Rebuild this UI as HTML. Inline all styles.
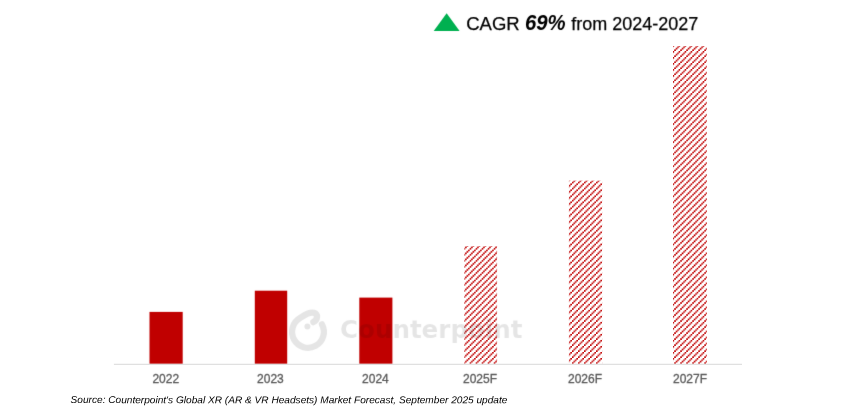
<!DOCTYPE html>
<html><head><meta charset="utf-8">
<style>
html,body{margin:0;padding:0;background:#fff;}
body{width:859px;height:409px;overflow:hidden;position:relative;font-family:"Liberation Sans",sans-serif;}
svg{position:absolute;left:0;top:0;}
</style></head><body>
<svg width="859" height="409" viewBox="0 0 859 409">
<defs>
<pattern id="h" width="6.018" height="6.018" patternUnits="userSpaceOnUse" patternTransform="translate(0.228 2.878)"><g fill="#c00000"><rect x="-1.5772" y="5.9452" width="1.6500" height="1.6500"/><rect x="-0.0727" y="4.4407" width="1.6500" height="1.6500"/><rect x="1.4318" y="2.9362" width="1.6500" height="1.6500"/><rect x="2.9362" y="1.4318" width="1.6500" height="1.6500"/><rect x="4.4407" y="-0.0727" width="1.6500" height="1.6500"/><rect x="5.9452" y="-1.5772" width="1.6500" height="1.6500"/></g></pattern>
<filter id="b" x="0" y="0" width="859" height="409" filterUnits="userSpaceOnUse" color-interpolation-filters="sRGB"><feConvolveMatrix order="3" kernelMatrix="0.01 0.07 0.01 0.07 0.68 0.07 0.01 0.07 0.01" divisor="1" edgeMode="none" preserveAlpha="false"/></filter>
</defs>
<rect width="859" height="409" fill="#fff"/>
<!-- solid bars -->
<g filter="url(#b)">
<rect x="149.5" y="311.9" width="33.2" height="51.9" fill="#c00000"/>
<rect x="254.8" y="290.7" width="32.4" height="73.1" fill="#c00000"/>
<rect x="359.3" y="297.6" width="33.1" height="66.2" fill="#c00000"/>
</g>
<!-- forecast (hatched) bars -->
<rect x="464.4" y="246.2" width="32.7" height="117.5" fill="url(#h)"/>
<rect x="568.9" y="180.6" width="33.2" height="183.1" fill="url(#h)"/>
<rect x="673" y="46" width="33.8" height="317.7" fill="url(#h)"/>
<line x1="113.9" y1="364.3" x2="742" y2="364.3" stroke="#d4d4d4" stroke-width="0.9"/>
<g filter="url(#b)">
<!-- watermark -->
<g fill="none" stroke="#000" stroke-opacity="0.1" stroke-linecap="round" stroke-linejoin="round">
<path d="M322.0 324.4 A15.9 15.9 0 1 1 300.05 318.1 C304.5 315.2 309.5 311.6 314.0 312.9 C318.2 314.2 318 319.5 313.4 322.1" stroke-width="6.3"/>
</g>
<circle cx="307.4" cy="326.4" r="3" fill="#000" fill-opacity="0.1"/>
<text x="340" y="337.6" font-family="DejaVu Sans, sans-serif" font-weight="bold" font-size="24.5" fill="#000" fill-opacity="0.1" textLength="182.5" lengthAdjust="spacingAndGlyphs">Counterpoint</text>
<!-- axis labels -->
<g font-family="Liberation Sans, sans-serif" font-size="12" fill="#595959" stroke="#595959" stroke-width="0.3" text-anchor="middle">
<text x="165.8" y="383">2022</text>
<text x="270.4" y="383">2023</text>
<text x="375.4" y="383">2024</text>
<text x="480" y="383">2025F</text>
<text x="585" y="383">2026F</text>
<text x="690" y="383">2027F</text>
</g>
<!-- title -->
<polygon points="433.7,31 459.6,31 446.65,13.3" fill="#00b050"/>
<g font-family="Liberation Sans, sans-serif" font-size="18" fill="#000">
<text x="466.2" y="30.4" font-size="18.5" stroke="#000" stroke-width="0.25">CAGR</text>
<text x="525.0" y="30.4" font-weight="bold" font-style="italic" font-size="22" textLength="40.7" lengthAdjust="spacingAndGlyphs">69%</text>
<text x="571.3" y="30.4" font-size="18.5" textLength="127.06" lengthAdjust="spacingAndGlyphs" stroke="#000" stroke-width="0.25">from 2024-2027</text>
</g>
</g>
<!-- source -->
<text transform="translate(70.6 403.1) scale(1.022 1) rotate(0.03)" font-family="Liberation Sans, sans-serif" font-size="9.9" font-style="italic" fill="#000">Source: Counterpoint's Global XR (AR &amp; VR Headsets) Market Forecast, September 2025 update</text>
</svg>
</body></html>
